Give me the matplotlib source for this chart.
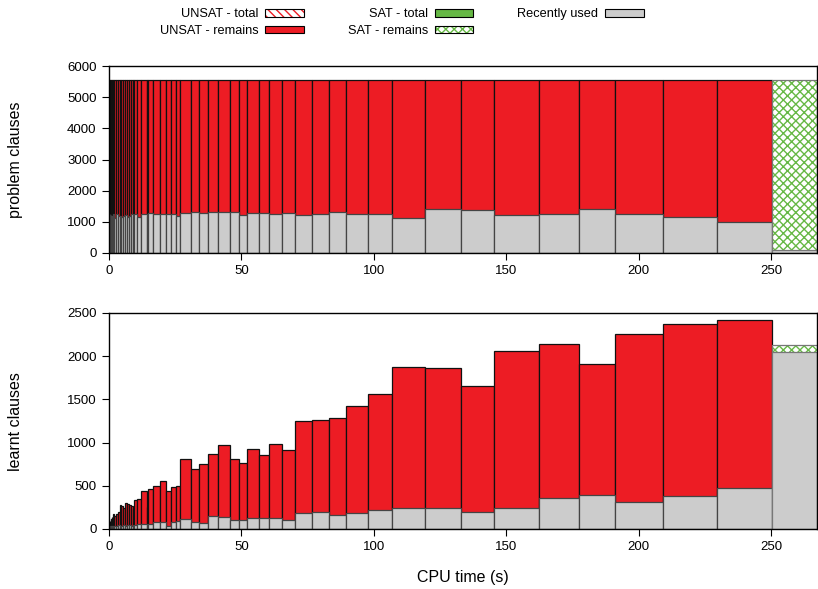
import numpy as np
import matplotlib.pyplot as plt
from matplotlib.patches import Patch

plt.rcParams['font.family'] = ['Liberation Sans', 'DejaVu Sans']
plt.rcParams['font.size'] = 9
plt.rcParams['hatch.linewidth'] = 1.0

# restart boundaries (CPU seconds); last interval is the final SAT run
edges = [0, 0.2, 0.4, 0.6, 0.8, 1.0, 1.3, 1.6, 2.0, 2.5,
         3.2, 4.0, 4.7, 5.4, 6.1, 6.8, 7.5, 8.2, 8.9, 9.6,
         10.7, 12.2, 14.2, 14.6, 16.7, 19.2, 21.4, 23.3, 25.1, 26.9,
         30.8, 33.8, 37.2, 41.2, 45.5, 49.0, 52.1, 56.6, 60.5, 65.2,
         70.1, 76.5, 83.0, 89.4, 97.7, 106.8, 119.2, 132.7, 145.3, 162.5,
         177.4, 191.2, 209.3, 229.5, 250.3, 267.3]

# problem clauses: every UNSAT run keeps the full clause set
problem_clauses = 5560
problem_recent = [1100, 1250, 1150, 1230, 1120, 1200, 1180, 1240, 1130,
                  1245, 1181, 1200, 1149, 1181, 1213, 1149, 1200, 1235, 1181,
                  1235, 1139, 1245, 1200, 1267, 1250, 1255, 1240, 1250, 1191,
                  1299, 1320, 1267, 1320, 1310, 1310, 1223, 1288, 1267, 1245,
                  1288, 1213, 1255, 1320, 1245, 1235, 1107, 1397, 1374, 1224,
                  1235, 1417, 1245, 1149, 998]
problem_sat_recent = 110

# learnt clauses per run
learnt_total = [60, 90, 80, 120, 110, 140, 130, 170, 150,
                170, 197, 282, 263, 248, 305, 294, 274, 263, 240,
                340, 350, 436, 255, 462, 498, 552, 436, 490, 494,
                810, 699, 757, 873, 977, 810, 768, 930, 856, 980,
                911, 1250, 1258, 1289, 1424, 1563, 1879, 1868, 1660, 2065,
                2146, 1914, 2253, 2377, 2424]
learnt_recent = [20, 25, 30, 30, 35, 30, 40, 35, 40,
                 40, 45, 35, 40, 45, 40, 50, 45, 40, 45,
                 51, 58, 62, 45, 62, 78, 81, 39, 81, 89,
                 112, 85, 70, 150, 139, 109, 109, 127, 127, 124,
                 100, 185, 193, 159, 190, 220, 240, 243, 201, 243,
                 355, 390, 317, 378, 475]
learnt_sat_total = 2126
learnt_sat_recent = 2049

RED = '#ED1C24'
GRAY = '#CCCCCC'
GREEN = '#66B845'

left = np.array(edges[:-1])
width = np.diff(edges)


def draw(ax, totals, recent, sat_total, sat_recent):
    ax.bar(left[:-1], totals, width[:-1], align='edge', color=RED,
           edgecolor='#111111', lw=0.9)
    ax.bar(left[:-1], recent, width[:-1], align='edge', color=GRAY,
           edgecolor='#444444', lw=0.9)
    # final satisfiable run
    ax.bar(left[-1], sat_total - sat_recent, width[-1], bottom=sat_recent,
           align='edge', color='white', edgecolor=GREEN, hatch='xxxx', lw=0)
    ax.bar(left[-1], sat_total, width[-1], align='edge', fill=False,
           edgecolor='#777777', lw=0.9)
    ax.bar(left[-1], sat_recent, width[-1], align='edge', color=GRAY,
           edgecolor='#777777', lw=0.9)
    ax.set_xlim(0, edges[-1])
    ax.set_xticks(np.arange(0, 251, 50))
    ax.tick_params(direction='out', length=5, width=0.8, pad=4, labelsize=9.5)
    for s in ax.spines.values():
        s.set_linewidth(1.0)


fig = plt.figure(figsize=(8.18, 5.89), dpi=100)
ax1 = fig.add_axes([0.1333, 0.5705, 0.8655, 0.3174])
ax2 = fig.add_axes([0.1333, 0.1019, 0.8655, 0.3667])

draw(ax1, np.full(len(problem_recent), problem_clauses), problem_recent,
     problem_clauses, problem_sat_recent)
ax1.set_ylim(0, 6000)
ax1.set_yticks(np.arange(0, 6001, 1000))

draw(ax2, learnt_total, learnt_recent, learnt_sat_total, learnt_sat_recent)
ax2.set_ylim(0, 2500)
ax2.set_yticks(np.arange(0, 2501, 500))

fig.text(16 / 818, 0.729, 'problem clauses', rotation=90, ha='center', va='center', fontsize=11.5)
fig.text(16 / 818, 0.285, 'learnt clauses', rotation=90, ha='center', va='center', fontsize=11.5)
fig.text(0.566, 0.019, 'CPU time (s)', ha='center', va='center', fontsize=11.5)

outline = Patch(fill=False, edgecolor='black', lw=0.8)
handles = [
    (Patch(facecolor='white', edgecolor=RED, hatch='\\\\\\\\', lw=0), outline),
    Patch(facecolor=RED, edgecolor='black', lw=0.8),
    Patch(facecolor=GREEN, edgecolor='black', lw=0.8),
    (Patch(facecolor='white', edgecolor=GREEN, hatch='xxxx', lw=0), outline),
    Patch(facecolor=GRAY, edgecolor='black', lw=0.8),
]
labels = ['UNSAT - total', 'UNSAT - remains', 'SAT - total', 'SAT - remains', 'Recently used']
fig.legend(handles, labels, ncol=3, loc='upper center', bbox_to_anchor=(0.491, 0.99),
           frameon=False, markerfirst=False, handlelength=3.0, handleheight=0.55,
           handletextpad=0.55, columnspacing=3.45, labelspacing=0.35,
           borderaxespad=0.0, borderpad=0.2, fontsize=9.2)

fig.savefig('out.png', dpi=100)
